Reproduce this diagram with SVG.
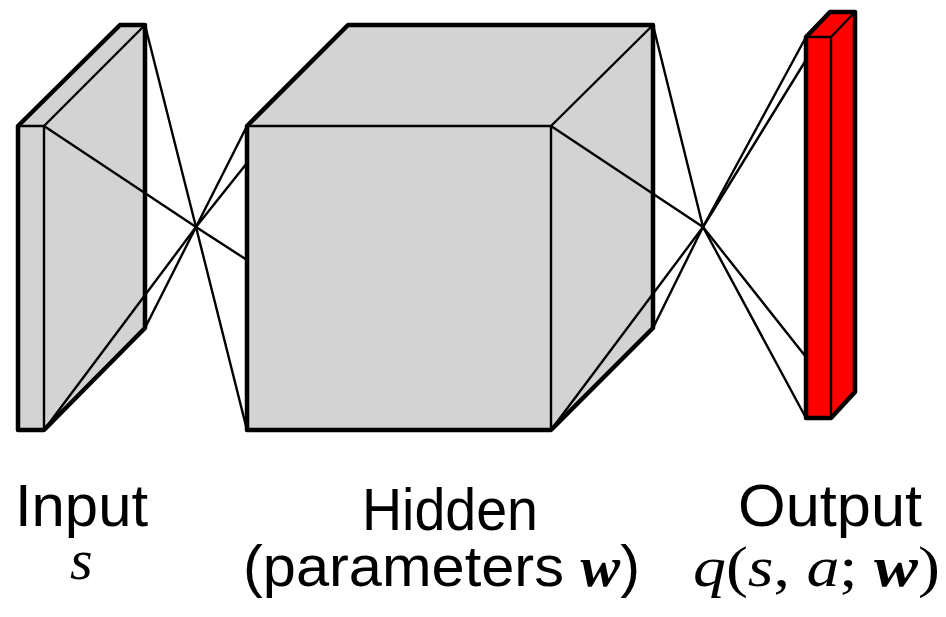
<svg xmlns="http://www.w3.org/2000/svg" width="946" height="617" viewBox="0 0 946 617">
<style>
.face{stroke:#000;stroke-width:4.5;stroke-linejoin:round}
.gray{fill:#d3d3d3}
.red{fill:#ff0000}
.edge{fill:none;stroke:#000;stroke-width:2.4;stroke-linejoin:round}
.conn{fill:none;stroke:#000;stroke-width:2.4;stroke-linejoin:round}
.sans{font-family:"Liberation Sans","DejaVu Sans",sans-serif;font-size:60px;fill:#000}
.sans2{font-family:"Liberation Sans","DejaVu Sans",sans-serif;font-size:58px;fill:#000}
.math{font-family:"Liberation Serif","DejaVu Serif",serif;font-style:italic}
.rm{font-family:"Liberation Serif","DejaVu Serif",serif;font-style:normal}
.bw{font-family:"Liberation Serif","DejaVu Serif",serif;font-style:italic;font-weight:bold}
</style>
<g id="input">
<path class="face gray" d="M18,126 L120,25 L145,25 L145,328 L44,430 L18,430 Z"/>
<path class="edge" d="M18,126 L44,126 L44,430 M44,126 L145,25"/>
</g>
<g id="hidden">
<path class="face gray" d="M247,126 L348,25 L653,25 L653,328 L551,430 L247,430 Z"/>
<path class="edge" d="M247,126 L551,126 L551,430 M551,126 L653,25"/>
</g>
<g id="output">
<path class="face red" d="M806,37 L830,12 L855,12 L855,392 L831,418 L806,418 Z"/>
<path class="edge" d="M806,37 L831,37 L831,418 M831,37 L855,12"/>
</g>
<g id="connectors">
<path class="conn" d="M145,25 L196,227 L247,430"/>
<path class="conn" d="M44,126 L196,227 L247,260"/>
<path class="conn" d="M44,430 L196,227 L247,163"/>
<path class="conn" d="M145,328 L196,227 L247,126"/>
<path class="conn" d="M653,25 L703,227 L806,418"/>
<path class="conn" d="M551,126 L703,227 L806,357"/>
<path class="conn" d="M551,430 L703,227 L806,60"/>
<path class="conn" d="M653,328 L703,227 L806,37"/>
</g>
<g id="labels">
<text class="sans" x="15" y="526" textLength="133" lengthAdjust="spacingAndGlyphs">Input</text>
<text class="sans" x="362" y="530" textLength="176" lengthAdjust="spacingAndGlyphs">Hidden</text>
<text class="sans" x="738" y="526" textLength="184" lengthAdjust="spacingAndGlyphs">Output</text>
<text class="sans2 math" x="70" y="579">s</text>
<text class="sans2" x="243" y="586" textLength="397" lengthAdjust="spacingAndGlyphs">(parameters <tspan class="bw">w</tspan>)</text>
<text class="sans2" x="693" y="586" textLength="247" lengthAdjust="spacingAndGlyphs"><tspan class="math">q</tspan><tspan class="rm">(</tspan><tspan class="math">s</tspan><tspan class="rm">, </tspan><tspan class="math">a</tspan><tspan class="rm">; </tspan><tspan class="bw">w</tspan><tspan class="rm">)</tspan></text>
</g>
</svg>
